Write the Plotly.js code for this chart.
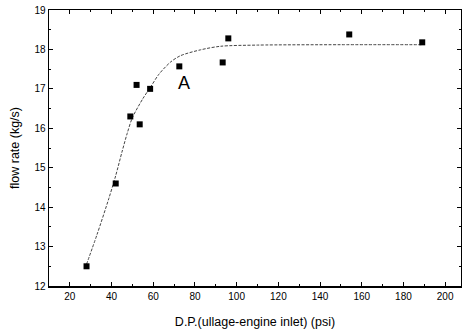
<!DOCTYPE html>
<html>
<head>
<meta charset="utf-8">
<script src="https://cdn.plot.ly/plotly-3.0.1.min.js"></script>
<style>html,body{margin:0;padding:0;background:#fff;}#chart{width:462px;height:333px;}</style>
</head>
<body>
<div id="chart"></div>
<script>
// measured points
var pointX = [28, 42, 49, 52, 53.5, 58.5, 72.5, 93.3, 96, 154, 189];
var pointY = [12.5, 14.6, 16.3, 17.1, 16.1, 17.0, 17.57, 17.67, 18.28, 18.38, 18.18];
// fitted curve
var fitX = [28, 33, 38.7, 42, 45, 47.5, 50, 55, 59, 62.7, 68.3, 73, 82.7, 92.3, 110, 150, 189];
var fitY = [12.55, 13.3, 14.22, 14.8, 15.4, 15.87, 16.27, 16.75, 17.07, 17.37, 17.68, 17.84, 17.99, 18.08, 18.11, 18.12, 18.12];
var xTicks = [20, 40, 60, 80, 100, 120, 140, 160, 180, 200];
var yTicks = [12, 13, 14, 15, 16, 17, 18, 19];
var annText = "A";
var annX = 74.6, annY = 17.15;

var font = {family: "Liberation Sans, Arial, sans-serif", color: "#000"};
var traces = [
  {x: fitX, y: fitY, mode: "lines", line: {color: "#444", width: 1, dash: "3px,1.5px", shape: "spline", smoothing: 0.8}, hoverinfo: "none"},
  {x: pointX, y: pointY, mode: "markers", marker: {symbol: "square", size: 6, color: "#000"}}
];
var axisCommon = {
  showgrid: false, zeroline: false, showline: true, linecolor: "#000", linewidth: 1.5,
  mirror: "ticks", ticks: "inside", ticklen: 4, tickwidth: 1, tickcolor: "#000",
  tickfont: {family: font.family, size: 10, color: "#000"}
};
var layout = {
  width: 462, height: 333,
  margin: {l: 49, r: 1, t: 10, b: 47},
  paper_bgcolor: "#fff", plot_bgcolor: "#fff",
  showlegend: false,
  xaxis: Object.assign({}, axisCommon, {
    range: [10, 207.6], tickvals: xTicks, ticktext: xTicks.map(String),
    minor: {dtick: 10, tick0: 0, ticks: "inside", ticklen: 2, tickcolor: "#000"},
    title: {text: "D.P.(ullage-engine inlet) (psi)", font: {family: font.family, size: 12.5, color: "#000"}, standoff: 16}
  }),
  yaxis: Object.assign({}, axisCommon, {
    range: [12, 19], tickvals: yTicks, ticktext: yTicks.map(String),
    minor: {dtick: 0.5, tick0: 0, ticks: "inside", ticklen: 2, tickcolor: "#000"},
    title: {text: "flow rate (kg/s)", font: {family: font.family, size: 12.5, color: "#000"}, standoff: 12}
  }),
  annotations: [{x: annX, y: annY, text: annText, showarrow: false, font: {family: font.family, size: 18, color: "#000"}}]
};
Plotly.newPlot("chart", traces, layout, {staticPlot: true, displayModeBar: false});
</script>
</body>
</html>
